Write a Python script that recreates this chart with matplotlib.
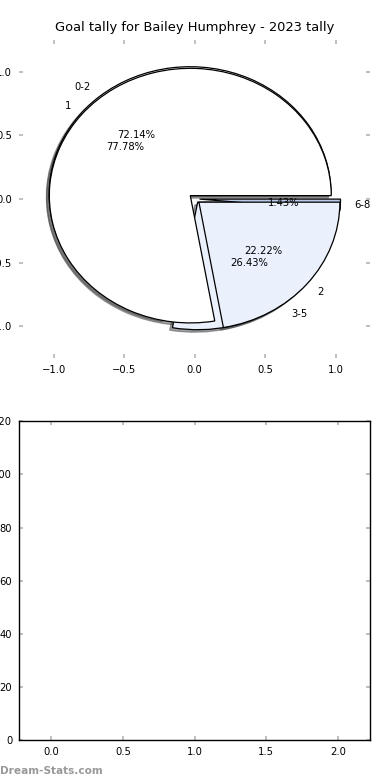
import numpy as np
import matplotlib
matplotlib.use("Agg")
import matplotlib.pyplot as plt

# goals per game, two groupings
tally_labels = ["1", "2"]
tally_counts = [7, 2]
range_labels = ["0-2", "3-5", "6-8"]
range_counts = [101, 37, 2]

bar_ticks = [0.0, 0.5, 1.0, 1.5, 2.0]
y_ticks = [0, 20, 40, 60, 80, 100, 120]

strTitle = "Goal tally for Bailey Humphrey - 2023 tally"

plt.rcParams['font.family'] = ['DejaVu Sans']
plt.rcParams['font.size'] = 7.2

fig = plt.figure(figsize=(3.9, 7.8), dpi=100)
ax1 = fig.add_axes([0.049, 0.541, 0.9, 0.408])
ax2 = fig.add_axes([0.049, 0.051, 0.9, 0.409])

def styleTicks(ax):
	ax.tick_params(direction="in", length=3, width=1.3, color="#bbbbbb",
		top=True, right=True, labelsize=7.2, pad=5)

shad = {"ox": -0.014, "oy": -0.014}

# range pie underneath, per game pie on top
ax1.pie(range_counts, labels=range_labels, autopct="%.2f%%",
	explode=[0.05, 0.035, 0.035], shadow=shad, frame=True,
	colors=["white", "#eaf0fc", "#b9c9e8"],
	wedgeprops={"edgecolor": "black", "linewidth": 0.9},
	textprops={"fontsize": 7.2})
ax1.pie(tally_counts, labels=tally_labels, autopct="%.2f%%",
	explode=[0.04, 0.04], shadow=shad, frame=True,
	colors=["white", "#eaf0fc"],
	wedgeprops={"edgecolor": "black", "linewidth": 0.9},
	textprops={"fontsize": 7.2})
ax1.set_aspect("auto")
ax1.set_xlim(-1.245, 1.245)
ax1.set_ylim(-1.25, 1.25)
ax1.set_xticks([-1.0, -0.5, 0.0, 0.5, 1.0])
ax1.set_yticks([-1.0, -0.5, 0.0, 0.5, 1.0])
for s in ax1.spines.values():
	s.set_visible(False)
styleTicks(ax1)
ax1.set_title(strTitle, fontsize=9.4, pad=6)

# empty bar panel
ax2.set_xlim(-0.225, 2.225)
ax2.set_ylim(0, 120)
ax2.set_xticks(bar_ticks)
ax2.set_yticks(y_ticks)
styleTicks(ax2)
for s in ax2.spines.values():
	s.set_linewidth(1.0)

fig.text(0.0, 0.005, "Dream-Stats.com", color="#999999", fontsize=7.6,
	fontweight="bold", ha="left", va="bottom")

plt.savefig("out.png", dpi=100)
plt.close()
